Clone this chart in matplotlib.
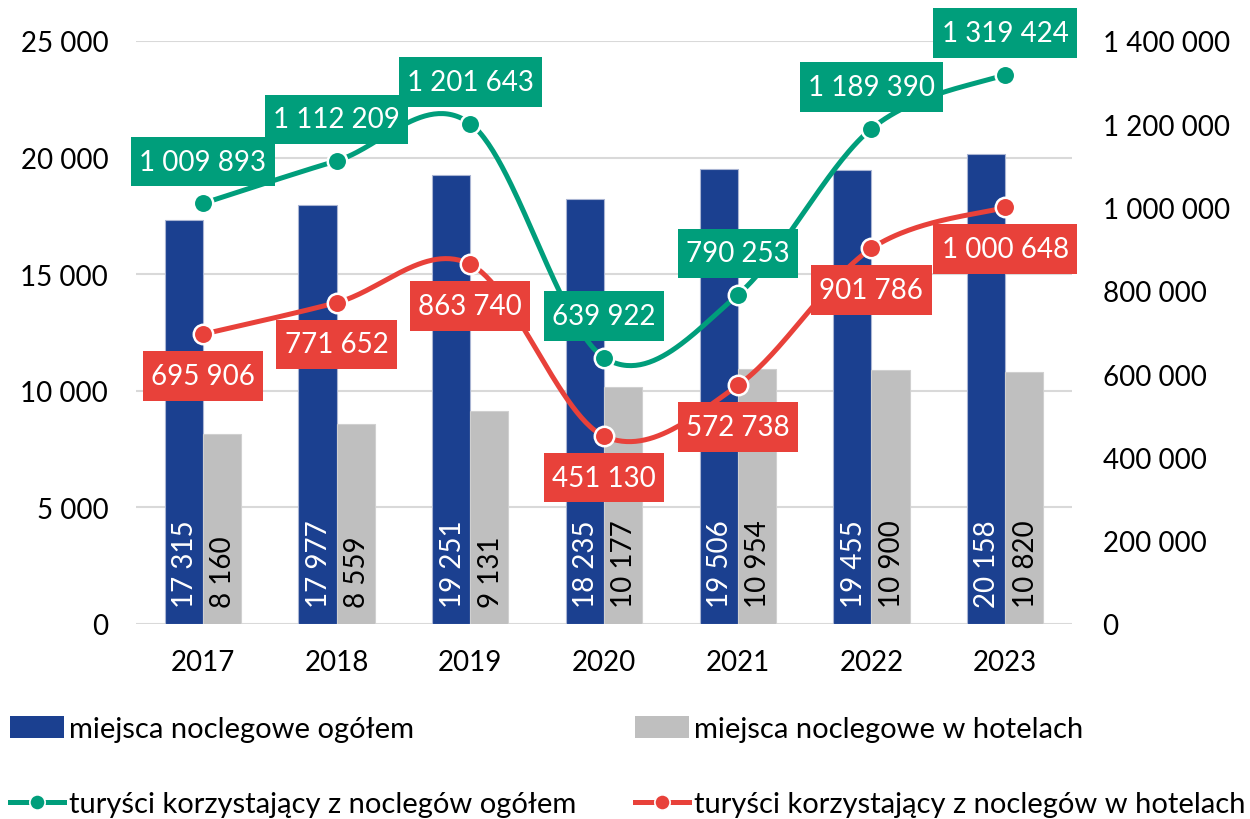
import numpy as np
import matplotlib
matplotlib.use("Agg")
import matplotlib.pyplot as plt
from matplotlib.patches import Patch
from matplotlib.path import Path
from matplotlib.lines import Line2D
from matplotlib.ticker import FuncFormatter

# --- data -------------------------------------------------------------
years = ["2017", "2018", "2019", "2020", "2021", "2022", "2023"]
beds_total = [17315, 17977, 19251, 18235, 19506, 19455, 20158]
beds_hotels = [8160, 8559, 9131, 10177, 10954, 10900, 10820]
tourists_total = [1009893, 1112209, 1201643, 639922, 790253, 1189390, 1319424]
tourists_hotels = [695906, 771652, 863740, 451130, 572738, 901786, 1000648]

left_ticks = [0, 5000, 10000, 15000, 20000, 25000]
right_ticks = [0, 200000, 400000, 600000, 800000, 1000000, 1200000, 1400000]

lbl_beds_total = "miejsca noclegowe ogółem"
lbl_beds_hotels = "miejsca noclegowe w hotelach"
lbl_tour_total = "turyści korzystający z noclegów ogółem"
lbl_tour_hotels = "turyści korzystający z noclegów w hotelach"

# --- style -------------------------------------------------------------
BLUE = "#1b4090"
GRAY = "#bfbfbf"
GREEN = "#009e7b"
RED = "#e8413a"
GRID = "#d9d9d9"
FS = 20

plt.rcParams["font.family"] = ["Lato", "DejaVu Sans"]
plt.rcParams["font.size"] = FS


def fmt_space(v):
    return f"{int(round(v)):,}".replace(",", " ")


def label_box(x0, y0, width, height, mutation_size):
    """Rectangular box with separate horizontal / vertical padding."""
    px = 0.3 * mutation_size
    py = 0.42 * mutation_size
    x0, y0 = x0 - px, y0 - py
    x1, y1 = x0 + width + 2 * px, y0 + height + 2 * py
    return Path([(x0, y0), (x1, y0), (x1, y1), (x0, y1), (x0, y0)],
                closed=True)


def smooth(xs, ys, n=60):
    """Bezier smoothing through all points (Catmull-Rom style tangents)."""
    xs = np.asarray(xs, float)
    ys = np.asarray(ys, float)
    pts = np.column_stack([xs, ys])
    out = []
    m = len(pts)
    for i in range(m - 1):
        p0 = pts[i - 1] if i > 0 else pts[i]
        p1 = pts[i]
        p2 = pts[i + 1]
        p3 = pts[i + 2] if i + 2 < m else pts[i + 1]
        c1 = p1 + (p2 - p0) / 6.0
        c2 = p2 - (p3 - p1) / 6.0
        t = np.linspace(0, 1, n)[:, None]
        seg = ((1 - t) ** 3) * p1 + 3 * ((1 - t) ** 2) * t * c1 \
            + 3 * (1 - t) * t ** 2 * c2 + t ** 3 * p2
        out.append(seg if i == 0 else seg[1:])
    path = np.vstack(out)
    return path[:, 0], path[:, 1]


fig = plt.figure(figsize=(12.5, 8.2), dpi=100)
ax = fig.add_axes([136 / 1250, 1 - 625 / 820, (1072 - 136) / 1250, (625 - 42) / 820])
ax2 = ax.twinx()

x = np.arange(len(years))
bw = 0.285

ax.bar(x - bw / 2, beds_total, width=bw, color=BLUE, edgecolor="#aab5d3",
       linewidth=0.8, zorder=2)
ax.bar(x + bw / 2, beds_hotels, width=bw, color=GRAY, edgecolor="#d0d0d0",
       linewidth=0.8, zorder=2)

for xi, v in zip(x, beds_total):
    ax.annotate(fmt_space(v), (xi - bw / 2, 0), xytext=(1, 12),
                textcoords="offset points", rotation=90, ha="center",
                va="bottom", color="white", fontsize=FS, zorder=3)
for xi, v in zip(x, beds_hotels):
    ax.annotate(fmt_space(v), (xi + bw / 2, 0), xytext=(1, 12),
                textcoords="offset points", rotation=90, ha="center",
                va="bottom", color="black", fontsize=FS, zorder=3)

ax.set_xlim(-0.5, len(years) - 0.5)
ax.set_ylim(0, 25000)
ax.set_yticks(left_ticks)
ax.yaxis.set_major_formatter(FuncFormatter(lambda v, p: fmt_space(v)))
ax.set_xticks(x)
ax.set_xticklabels(years)
ax.grid(axis="y", color=GRID, linewidth=1.5, zorder=0)
ax.set_axisbelow(True)
ax.tick_params(axis="both", length=0, labelsize=FS)
ax.tick_params(axis="y", pad=20)
ax.tick_params(axis="x", pad=18)
for s in ax.spines.values():
    s.set_visible(False)

ax2.set_ylim(0, 1400000)
ax2.set_yticks(right_ticks)
ax2.yaxis.set_major_formatter(FuncFormatter(lambda v, p: fmt_space(v)))
ax2.tick_params(axis="y", length=0, labelsize=FS, pad=22)
for s in ax2.spines.values():
    s.set_visible(False)

for series, col, dy in ((tourists_total, GREEN, 30), (tourists_hotels, RED, -30)):
    sx, sy = smooth(x, series)
    ax2.plot(sx, sy, color=col, linewidth=3.6, zorder=3, solid_capstyle="round")
    ax2.plot(x, series, linestyle="none", marker="o", markersize=14,
             markerfacecolor=col, markeredgecolor="white", markeredgewidth=1.8,
             zorder=4)
    for xi, v in zip(x, series):
        ax2.annotate(fmt_space(v), (xi, v), xytext=(0, dy),
                     textcoords="offset points", ha="center", va="center",
                     color="white", fontsize=FS, zorder=5,
                     bbox=dict(boxstyle=label_box, facecolor=col,
                               edgecolor="none"))

# --- legend -------------------------------------------------------------
h_beds_total = Patch(facecolor=BLUE, edgecolor="none")
h_beds_hotels = Patch(facecolor=GRAY, edgecolor="none")
h_tour_total = Line2D([], [], color=GREEN, linewidth=3.6, marker="o",
                      markersize=11, markerfacecolor=GREEN,
                      markeredgecolor="white", markeredgewidth=1.2)
h_tour_hotels = Line2D([], [], color=RED, linewidth=3.6, marker="o",
                       markersize=11, markerfacecolor=RED,
                       markeredgecolor="white", markeredgewidth=1.2)

common = dict(frameon=False, borderpad=0, borderaxespad=0, handlelength=1.85,
              handleheight=0.8, handletextpad=0.18, fontsize=21,
              loc="center left")
entries = [
    (h_beds_total, lbl_beds_total, 10, 730),
    (h_beds_hotels, lbl_beds_hotels, 635, 730),
    (h_tour_total, lbl_tour_total, 10, 805),
    (h_tour_hotels, lbl_tour_hotels, 635, 805),
]
for h, lbl, px, py in entries:
    fig.legend([h], [lbl], bbox_to_anchor=(px / 1250, 1 - py / 820), **common)

fig.savefig("out.png", dpi=100, facecolor="white")
